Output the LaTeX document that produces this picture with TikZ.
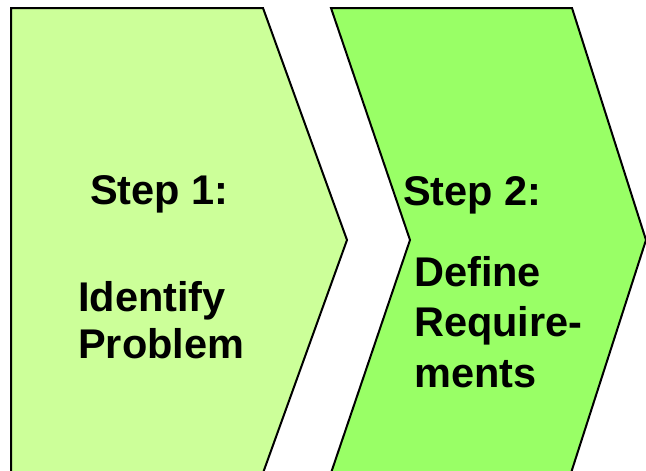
\documentclass[tikz,border=0pt]{standalone}
\usepackage{fontspec}
\setmainfont{Liberation Sans}
\definecolor{lightgreen}{HTML}{CCFF99}
\definecolor{midgreen}{HTML}{99FF66}
\tikzset{
  chevron/.style={draw=black, line width=2pt, line join=miter},
  steptext/.style={font=\bfseries\fontsize{41.5}{48}\selectfont, inner sep=0pt, anchor=base west, text=black}
}
\begin{document}
\begin{tikzpicture}[x=1pt,y=-1pt]
\useasboundingbox (0,0) rectangle (646,471);
\clip (0,0) rectangle (646,471);
\fill[white] (0,0) rectangle (646,471);
% shape 1
\draw[chevron, fill=lightgreen] (11,8) -- (263,8) -- (347,240) -- (263,473) -- (11,473) -- cycle;
% shape 2
\draw[chevron, fill=midgreen] (331,8) -- (572,8) -- (646,240) -- (571,473) -- (331,473) -- (410,240) -- cycle;
% texts
\node[steptext] (s1) at (90,204) {Step 1:};
\node[steptext] (s1a) at (78,311) {Identify};
\node[steptext] (s1b) at (78,358) {Problem};
\node[steptext] (s2) at (403,205) {Step 2:};
\node[steptext] (s2a) at (414,286) {Define};
\node[steptext] (s2b) at (414,336) {Require-};
\node[steptext] (s2c) at (414,387) {ments};
\end{tikzpicture}
\end{document}
